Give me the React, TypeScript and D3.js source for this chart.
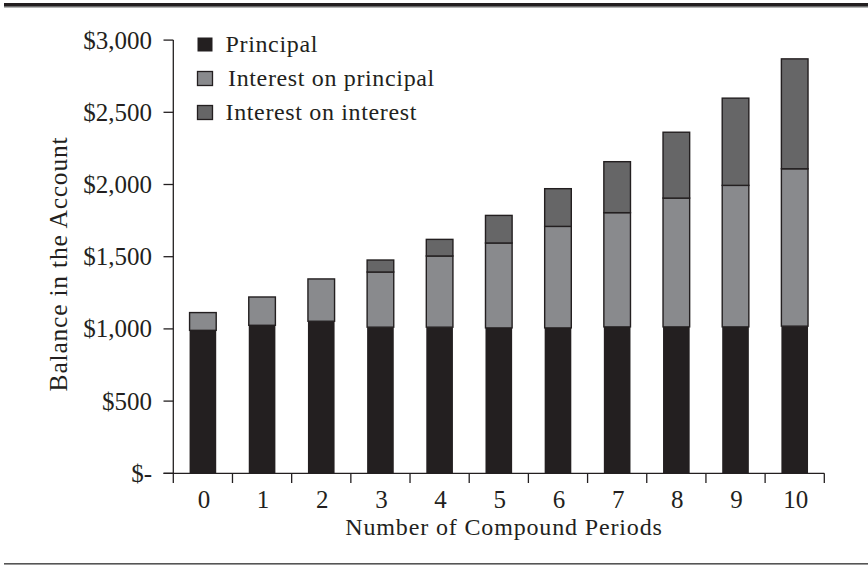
import React from "react";
import * as d3 from "d3";

const periods = ["0", "1", "2", "3", "4", "5", "6", "7", "8", "9", "10"];
const principal = [990, 1025, 1053, 1012, 1012, 1007, 1007, 1014, 1014, 1014, 1019];
const interestOnPrincipal = [123, 196, 293, 382, 493, 588, 703, 791, 892, 980, 1090];
const interestOnInterest = [0, 0, 0, 83, 115, 191, 261, 353, 456, 604, 761];
const yTicks = [0, 500, 1000, 1500, 2000, 2500, 3000];
const seriesKeys = ["principal", "interestOnPrincipal", "interestOnInterest"];
const seriesLabels = ["Principal", "Interest on principal", "Interest on interest"];

const W = 868;
const H = 566;
const INK = "#231f20";
const colors: Record<string, string> = {
  principal: "#231f20",
  interestOnPrincipal: "#898a8d",
  interestOnInterest: "#666667",
};
const FONT = "'Liberation Serif', 'Times New Roman', serif";

export default function App() {
  const left = 173.3;
  const right = 824.3;
  const base = 473.3;
  const top = 40.1;

  const x = d3.scaleBand<string>().domain(periods).range([left, right]).paddingInner(0.55).paddingOuter(0.275);
  const y = d3.scaleLinear().domain([0, 3000]).range([base, top]);

  const rows = periods.map((p, i) => ({
    period: p,
    principal: principal[i],
    interestOnPrincipal: interestOnPrincipal[i],
    interestOnInterest: interestOnInterest[i],
  }));
  const stacked = d3.stack<any>().keys(seriesKeys)(rows);
  const step = x.step();
  const fmt = d3.format("$,");

  return (
    <svg width={W} height={H} style={{ position: "absolute", left: 0, top: 0, background: "#fff" }} fontFamily={FONT}>
      <rect x={0} y={0} width={W} height={H} fill="#fff" />
      {/* top rule */}
      <rect x={4} y={3} width={W - 4} height={3} fill={INK} />
      <rect x={4} y={6} width={W - 4} height={1.5} fill="#6d6d6d" />
      {/* bottom rule */}
      <rect x={4} y={563} width={W - 4} height={1.6} fill="#555" />

      {/* bars */}
      {stacked.map((s) => (
        <g key={s.key}>
          {s.map((d, i) => {
            const h = y(d[0]) - y(d[1]);
            if (h <= 0.01) return null;
            return (
              <rect
                key={i}
                x={x(periods[i])}
                y={y(d[1])}
                width={x.bandwidth()}
                height={h}
                fill={colors[s.key]}
                stroke={INK}
                strokeWidth={s.key === "principal" ? 0 : 1.4}
              />
            );
          })}
        </g>
      ))}

      {/* y axis */}
      <line x1={left} x2={left} y1={top} y2={483} stroke={INK} strokeWidth={1.3} />
      {yTicks.map((t) => (
        <g key={t}>
          <line x1={163.5} x2={left} y1={y(t)} y2={y(t)} stroke={INK} strokeWidth={1.3} />
          <text x={152} y={y(t) + 8.5} textAnchor="end" fontSize={25} fill={INK}>
            {t === 0 ? "$-" : fmt(t)}
          </text>
        </g>
      ))}

      {/* x axis */}
      <line x1={163.5} x2={right} y1={base} y2={base} stroke={INK} strokeWidth={1.3} />
      {periods.map((p, i) => (
        <g key={p}>
          <line
            x1={left + (i + 1) * step}
            x2={left + (i + 1) * step}
            y1={base}
            y2={483}
            stroke={INK}
            strokeWidth={1.3}
          />
          <text x={(x(p) as number) + x.bandwidth() / 2 + 1} y={508} textAnchor="middle" fontSize={25} fill={INK}>
            {p}
          </text>
        </g>
      ))}

      {/* axis titles */}
      <text x={504} y={535} textAnchor="middle" fontSize={24} letterSpacing={0.85} fill={INK}>
        Number of Compound Periods
      </text>
      <text
        transform="translate(67,264) rotate(-90)"
        textAnchor="middle"
        fontSize={25.5}
        letterSpacing={0.8}
        fill={INK}
      >
        Balance in the Account
      </text>

      {/* legend */}
      {seriesKeys.map((k, i) => {
        const ly = 37 + i * 34;
        return (
          <g key={k}>
            <rect
              x={197.5}
              y={ly + 0.5}
              width={15}
              height={14}
              fill={colors[k]}
              stroke={INK}
              strokeWidth={i === 0 ? 0 : 1.3}
            />
            <text x={i === 1 ? 228 : 225.5} y={ly + 15} fontSize={24} letterSpacing={0.65} fill={INK}>
              {seriesLabels[i]}
            </text>
          </g>
        );
      })}
    </svg>
  );
}
